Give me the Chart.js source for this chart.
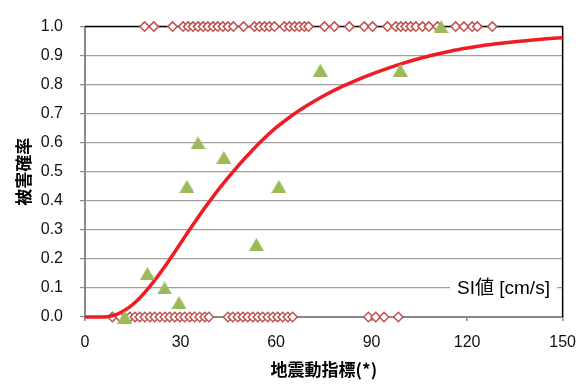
<!DOCTYPE html>
<html><head><meta charset="utf-8">
<script src="https://cdn.jsdelivr.net/npm/chart.js@4/dist/chart.umd.min.js"></script>
<style>html,body{margin:0;padding:0;background:#fff}#wrap{width:588px;height:387px;position:relative}</style>
</head><body><div id="wrap"><canvas id="c"></canvas></div>
<script>
// Axis ticks
const xTickValues = [0, 30, 60, 90, 120, 150];
const yTickValues = [0, 0.1, 0.2, 0.3, 0.4, 0.5, 0.6, 0.7, 0.8, 0.9, 1.0];

// Observed damage ratio (green triangles)
const ratioX = [12.5, 19.6, 25, 29.5, 32, 35.5, 43.6, 53.8, 60.9, 73.9, 99, 111.8];
const ratioY = [0.0, 0.15, 0.10, 0.05, 0.45, 0.60, 0.55, 0.25, 0.45, 0.85, 0.85, 1.0];

// Individual cases: damaged (1) and undamaged (0)
const damagedX = [18.7, 21.6, 27.5, 30.8, 32.4, 33.9, 35.5, 37.1, 38.6, 40.2, 41.7, 43.3, 44.9, 46.6,
  49.8, 53.2, 54.8, 56.4, 57.9, 59.5, 62.6, 64.2, 65.8, 67.3, 68.9, 70.2, 75.2, 78.3, 83.0, 87.7,
  90.3, 95.0, 97.6, 99.2, 100.7, 102.3, 103.9, 106.0, 108.0, 110.7, 116.4, 119.0, 121.6, 123.2, 127.9];
const undamagedX = [8.6, 11.0, 14.1, 15.7, 17.2, 18.8, 20.4, 21.9, 23.5, 25.1, 26.6, 28.2, 29.8,
  31.3, 32.9, 34.4, 36.0, 37.6, 38.9, 44.9, 46.4, 48.0, 49.6, 51.1, 52.7, 54.3, 55.8, 57.4, 59.0,
  60.5, 62.1, 63.7, 65.2, 89.0, 91.3, 93.9, 98.4];

// Fragility curve
const curveX = [0, 5, 7, 8, 10, 12.5, 15, 17.5, 20, 22.5, 25, 27.5, 30, 32.5, 35, 37.5, 40, 42.5,
  45, 47.5, 50, 55, 60, 65, 70, 75, 80, 85, 90, 95, 100, 105, 110, 115, 120, 125, 130, 135, 140,
  145, 150];
const curveY = [0, 0, 0.001, 0.003, 0.009, 0.023, 0.043, 0.069, 0.100, 0.135, 0.173, 0.213, 0.254,
  0.295, 0.335, 0.374, 0.411, 0.447, 0.481, 0.513, 0.544, 0.602, 0.652, 0.694, 0.730, 0.762, 0.790,
  0.814, 0.836, 0.856, 0.874, 0.890, 0.904, 0.916, 0.926, 0.935, 0.942, 0.948, 0.953, 0.958, 0.962];

const xTitle = '地震動指標(*)';
const yTitle = '被害確率';
const noteText = 'SI値 [cm/s]';

const pts = (xs, ys) => xs.map((x, i) => ({x: x, y: ys[i]}));
const flat = (xs, v) => xs.map(x => ({x: x, y: v}));

// triangle marker, centred on its bounding box
function triangleMarker(w, h, color) {
  const cv = document.createElement('canvas');
  cv.width = w; cv.height = h;
  const g = cv.getContext('2d');
  g.fillStyle = color;
  g.beginPath();
  g.moveTo(w / 2, 0);
  g.lineTo(w, h);
  g.lineTo(0, h);
  g.closePath();
  g.fill();
  return cv;
}
const tri = triangleMarker(15, 13, '#9BBB59');

const framePlugin = {
  id: 'frame',
  beforeDatasetsDraw(chart) {
    const {ctx, chartArea: a} = chart;
    ctx.save();
    ctx.strokeStyle = '#000';
    ctx.lineWidth = 1.5;
    ctx.beginPath();
    ctx.moveTo(a.left, a.top);
    ctx.lineTo(a.right, a.top);
    ctx.lineTo(a.right, a.bottom);
    ctx.stroke();
    ctx.restore();
  },
  afterDatasetsDraw(chart) {
    const {ctx} = chart;
    const xs = chart.scales.x, ys = chart.scales.y;
    ctx.save();
    ctx.font = '19px "Liberation Sans", "Noto Sans CJK JP", sans-serif';
    const w = ctx.measureText(noteText).width;
    const right = xs.getPixelForValue(146);
    const cy = ys.getPixelForValue(0.097);
    ctx.fillStyle = '#fff';
    ctx.fillRect(right - w - 7, cy - 11, w + 14, 22);
    ctx.fillStyle = '#000';
    ctx.textBaseline = 'middle';
    ctx.textAlign = 'right';
    ctx.fillText(noteText, right, cy);
    ctx.restore();
  }
};

new Chart(document.getElementById('c'), {
  type: 'scatter',
  data: {
    datasets: [
      {
        data: flat(undamagedX, 0).concat(flat(damagedX, 1)),
        pointStyle: 'rectRot', radius: 4.7, borderWidth: 1.5,
        borderColor: '#C0504D', backgroundColor: '#fff', order: 3, clip: false
      },
      {
        type: 'line',
        data: pts(curveX, curveY),
        borderColor: '#EE1D23', borderWidth: 3.5, pointRadius: 0,
        cubicInterpolationMode: 'monotone', fill: false, order: 2, clip: false
      },
      {
        data: pts(ratioX, ratioY),
        pointStyle: tri, radius: 7, order: 1, clip: false
      }
    ]
  },
  options: {
    responsive: true, maintainAspectRatio: false, animation: false,
    devicePixelRatio: 1,
    layout: {padding: {left: 0, right: 24, top: 17, bottom: 0}},
    plugins: {legend: {display: false}, tooltip: {enabled: false}},
    scales: {
      x: {
        type: 'linear', min: 0, max: 150,
        afterBuildTicks: s => { s.ticks = xTickValues.map(v => ({value: v})); },
        afterFit: s => { s.height = 70; },
        grid: {drawOnChartArea: false, color: '#888', tickLength: 4, lineWidth: 1.5},
        border: {color: '#888', width: 2},
        ticks: {color: '#111', padding: 12, font: {family: '"Liberation Sans", Arial, sans-serif', size: 16}},
        title: {display: true, text: xTitle, color: '#000', padding: {top: 7, bottom: 7},
          font: {family: '"Noto Sans CJK JP", sans-serif', size: 17, weight: 'bold'}}
      },
      y: {
        type: 'linear', min: 0, max: 1,
        afterBuildTicks: s => { s.ticks = yTickValues.map(v => ({value: v})); },
        afterFit: s => { s.width = 85; },
        grid: {color: '#A0A0A0', lineWidth: 1.2, tickLength: 5, tickColor: '#888'},
        border: {color: '#888', width: 2},
        ticks: {color: '#111', padding: 17, callback: v => v.toFixed(1),
          font: {family: '"Liberation Sans", Arial, sans-serif', size: 16}},
        title: {display: true, text: yTitle, color: '#000', padding: {top: 13, bottom: 13},
          font: {family: '"Noto Sans CJK JP", sans-serif', size: 17, weight: 'bold'}}
      }
    }
  },
  plugins: [framePlugin]
});
</script></body></html>
